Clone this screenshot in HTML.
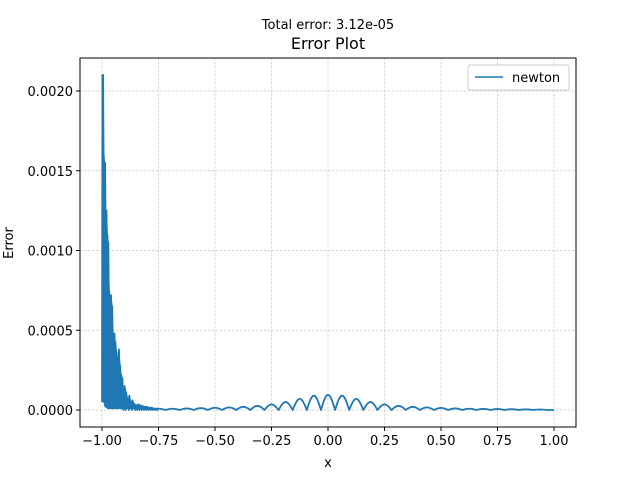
<!DOCTYPE html>
<html><head><meta charset="utf-8"><style>
body{margin:0;background:#fff}
svg{display:block;font-family:"DejaVu Sans","Liberation Sans",sans-serif}
</style></head><body>
<svg id="chart" width="640" height="480" viewBox="0 0 640 480">
<rect width="640" height="480" fill="#fff"/>
<text x="328" y="29" font-size="13" text-anchor="middle">Total error: 3.12e-05</text>
<text x="328" y="49" font-size="16" text-anchor="middle">Error Plot</text>
<g id="grid"></g>
<g id="ticks"></g>
<g id="series"></g>
<rect x="80" y="58" width="496" height="369" fill="none" stroke="#000" stroke-width="1"/>
<text x="328" y="467" font-size="13" text-anchor="middle">x</text>
<text transform="translate(13,243) rotate(-90)" font-size="13" text-anchor="middle">Error</text>
<g>
<rect x="468" y="65" width="101" height="25" rx="2" fill="#fff" fill-opacity="0.8" stroke="#ccc"/>
<line x1="475" y1="77" x2="503" y2="77" stroke="#1f77b4" stroke-width="1.5"/>
<text x="512" y="82" font-size="13">newton</text>
</g>
</svg>
<script>
const xTicks = [-1, -0.75, -0.5, -0.25, 0, 0.25, 0.5, 0.75, 1];
const xTickLabels = ["−1.00","−0.75","−0.50","−0.25","0.00","0.25","0.50","0.75","1.00"];
const yTicks = [0, 0.0005, 0.001, 0.0015, 0.002];
const yTickLabels = ["0.0000","0.0005","0.0010","0.0015","0.0020"];
// oscillation region near x=-1: spike positions and peak errors
const spikeX = [-0.998,-0.995,-0.992,-0.989,-0.986,-0.983,-0.980,-0.976,-0.972,-0.968,-0.964,-0.960,-0.955,-0.950,-0.945,-0.940,-0.935,-0.930,-0.925,-0.920,-0.915,-0.910,-0.905,-0.900,-0.893,-0.886,-0.879,-0.872,-0.865,-0.858,-0.850,-0.840,-0.830,-0.820,-0.810,-0.800,-0.790,-0.780,-0.770,-0.760];
const spikeHi = [0.0021,0.0021,0.0016,0.00155,0.00155,0.0012,0.00125,0.0011,0.00105,0.00075,0.0007,0.00072,0.00065,0.00045,0.00048,0.00042,0.00036,0.00030,0.00038,0.00028,0.00022,0.00020,0.00012,0.00015,0.00011,0.00007,0.00009,0.00005,0.00006,0.00004,0.00003,0.000035,0.00003,0.000025,0.00002,0.00002,0.000015,0.000015,0.00001,0.00001];
const spikeLo = [0.00005,0.0003,0.0001,0.00003,0.00002,0.00003,0.00002,0.00001,0.00002,0.00001,0.00001,0.00001,0.00001,0.00001,0.00001,0.00001,0.00001,0.00001,0.00001,0.00001,0.00001,0,0.00001,0,0.00001,0,0.00001,0,0.00001,0,0,0,0,0,0,0,0,0,0,0];
// smooth arches: peak centers and peak errors
const archCenters = [-0.75,-0.6875,-0.625,-0.5625,-0.5,-0.4375,-0.375,-0.3125,-0.25,-0.1875,-0.125,-0.0625,0,0.0625,0.125,0.1875,0.25,0.3125,0.375,0.4375,0.5,0.5625,0.625,0.6875,0.75,0.8125,0.875,0.9375];
const archHeights = [0.000008,0.000008,0.00001,0.000012,0.000014,0.000016,0.00002,0.000026,0.000035,0.00005,0.00007,0.00009,0.000095,0.00009,0.00007,0.00005,0.000035,0.000026,0.00002,0.000016,0.000013,0.00001,0.000008,0.000007,0.000006,0.000005,0.000004,0.000003];

const X0=80,X1=576,Y0=58,Y1=427;
function sx(v){return 102+(v+1)*226;}
function sy(v){return 410-v*159500;}
const NS='http://www.w3.org/2000/svg';
function mk(tag,attrs,parent){const e=document.createElementNS(NS,tag);for(const k in attrs)e.setAttribute(k,attrs[k]);parent.appendChild(e);return e;}
const grid=document.getElementById('grid'),ticks=document.getElementById('ticks'),series=document.getElementById('series');
xTicks.forEach((t,i)=>{
  const x=sx(t);
  const g=mk('line',{x1:x,x2:x,y1:Y0,y2:Y1,stroke:'#c8c8c8','stroke-width':0.7,'stroke-dasharray':'2.5,1.5'},grid);
  
  
  mk('line',{x1:x,x2:x,y1:Y1,y2:Y1+4,stroke:'#000'},ticks);
  const l=mk('text',{x:x,y:Y1+18,'font-size':13,'text-anchor':'middle'},ticks);
  l.textContent=xTickLabels[i];
  
  
});
yTicks.forEach((t,i)=>{
  const y=sy(t);
  const g=mk('line',{x1:X0,x2:X1,y1:y,y2:y,stroke:'#c8c8c8','stroke-width':0.7,'stroke-dasharray':'2.5,1.5'},grid);
  
  
  mk('line',{x1:X0-4,x2:X0,y1:y,y2:y,stroke:'#000'},ticks);
  const l=mk('text',{x:X0-7,y:y+5,'font-size':13,'text-anchor':'end'},ticks);
  l.textContent=yTickLabels[i];
  
  
});
// filled band under the spike envelope (dense oscillation)
let band=[];
spikeX.forEach((x,i)=>band.push([sx(x),sy(spikeHi[i])]));
for(let i=spikeX.length-1;i>=0;i--)band.push([sx(spikeX[i]),sy(Math.max(spikeLo[i],0.00001))]);
const b=mk('polygon',{points:band.map(q=>q[0].toFixed(2)+','+q[1].toFixed(2)).join(' '),fill:'#1f77b4',stroke:'#1f77b4','stroke-width':1},series);


let pts=[];
pts.push([sx(-1),sy(spikeLo[0])]);
spikeX.forEach((x,i)=>{pts.push([sx(x),sy(spikeHi[i])]);pts.push([sx(x)+1.2,sy(spikeLo[i])]);});
const half=0.03125;
let start=spikeX[spikeX.length-1];
archCenters.forEach((c,i)=>{
  for(let j=0;j<=12;j++){
    const x=c-half+j*(2*half)/12;
    if(x<start)continue;
    const v=archHeights[i]*Math.sin(Math.PI*j/12);
    pts.push([sx(x),sy(v)]);
  }
});
pts.push([sx(1),sy(0)]);
const p=mk('polyline',{points:pts.map(q=>q[0].toFixed(2)+','+q[1].toFixed(2)).join(' '),fill:'none',stroke:'#1f77b4','stroke-width':1.8,'stroke-linejoin':'round'},series);


</script>
</body></html>
